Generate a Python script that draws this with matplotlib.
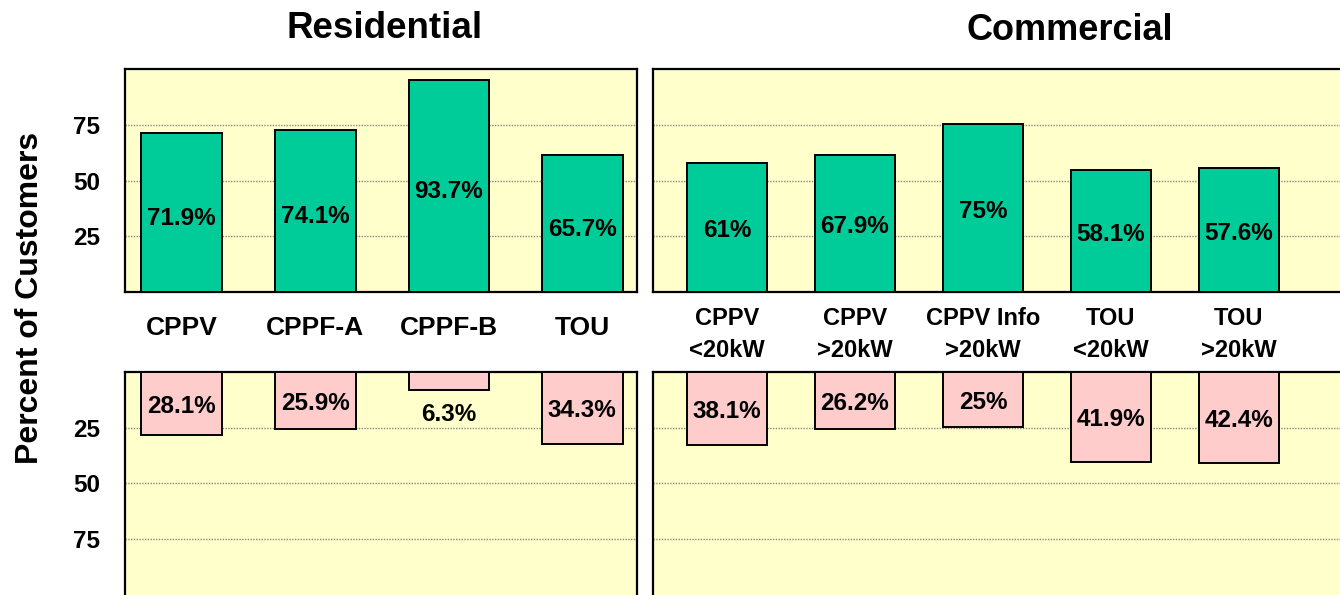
import matplotlib
matplotlib.use('Agg')
import matplotlib.pyplot as plt

plt.rcParams['font.family'] = ['Liberation Sans', 'DejaVu Sans']
plt.rcParams['font.weight'] = 'bold'

# ---- data ----
res_categories = ['CPPV', 'CPPF-A', 'CPPF-B', 'TOU']
res_yes = [71.2, 72.8, 95.0, 61.4]
res_no = [28.3, 25.5, 7.9, 32.4]
res_yes_labels = ['71.9%', '74.1%', '93.7%', '65.7%']
res_no_labels = ['28.1%', '25.9%', '6.3%', '34.3%']

com_categories = ['CPPV\n<20kW', 'CPPV\n>20kW', 'CPPV Info\n>20kW', 'TOU\n<20kW', 'TOU\n>20kW']
com_yes = [57.8, 61.4, 75.3, 54.9, 55.6]
com_no = [32.7, 25.8, 24.9, 40.6, 40.8]
com_yes_labels = ['61%', '67.9%', '75%', '58.1%', '57.6%']
com_no_labels = ['38.1%', '26.2%', '25%', '41.9%', '42.4%']

yticks = [25, 50, 75]

# ---- style ----
GREEN = '#00CC99'
PINK = '#FFCCCC'
BG = '#FFFFCC'
W, H = 1340, 595

fig = plt.figure(figsize=(W / 100, H / 100), dpi=100)


def ax_px(x0, y0, x1, y1):
    return fig.add_axes([x0 / W, 1 - y1 / H, (x1 - x0) / W, (y1 - y0) / H])


res_top = ax_px(125, 69, 637, 292)
com_top = ax_px(653, 69, 1348, 292)
res_bot = ax_px(125, 372, 637, 599)
com_bot = ax_px(653, 372, 1348, 599)


def style(ax, show_ticks):
    ax.set_facecolor(BG)
    for s in ax.spines.values():
        s.set_linewidth(1.6)
        s.set_color('black')
    ax.set_axisbelow(True)
    ax.yaxis.grid(True, linestyle=(0, (1, 1)), color='#8a8a7a', linewidth=1.0)
    ax.set_yticks(yticks)
    ax.tick_params(axis='y', length=0, pad=18, labelsize=17.5)
    if not show_ticks:
        ax.tick_params(axis='y', labelleft=False)


def draw(ax_t, ax_b, cats, yes, no, ylab, nlab, xlim, width, show_ticks,
         lab_pad, lab_size, lab_spacing, yes_off, no_off):
    x = list(range(len(cats)))
    ax_t.bar(x, yes, width=width, color=GREEN, edgecolor='black', linewidth=1.4, zorder=3)
    ax_b.bar(x, no, width=width, color=PINK, edgecolor='black', linewidth=1.4, zorder=3)
    for ax in (ax_t, ax_b):
        style(ax, show_ticks)
        ax.set_xlim(*xlim)
    ax_t.set_ylim(0, 100)
    ax_b.set_ylim(102, 0)
    ax_t.set_xticks(x, cats)
    ax_t.tick_params(axis='x', length=0, pad=lab_pad, labelsize=lab_size)
    for lbl in ax_t.get_xticklabels():
        lbl.set_linespacing(lab_spacing)
    ax_b.set_xticks([])
    for xi, h, t in zip(x, yes, ylab):
        ax_t.text(xi, h / 2 - yes_off, t, ha='center', va='center', fontsize=17.5, fontweight='bold', zorder=4)
    for xi, h, t in zip(x, no, nlab):
        yy = h + 11 if h < 15 else h / 2 + no_off
        ax_b.text(xi, yy, t, ha='center', va='center', fontsize=17.5, fontweight='bold', zorder=4)


draw(res_top, res_bot, res_categories, res_yes, res_no, res_yes_labels, res_no_labels,
     (-0.425, 3.41), 0.603, True, 17, 19, 1.2, 2.5, 1.2)
draw(com_top, com_bot, com_categories, com_yes, com_no, com_yes_labels, com_no_labels,
     (-0.578, 4.853), 0.629, False, 11, 17, 1.5, 1.5, 1.2)

fig.text(385 / W, 1 - 28 / H, 'Residential', ha='center', va='center', fontsize=26.5, fontweight='bold')
fig.text(1070 / W, 1 - 31 / H, 'Commercial', ha='center', va='center', fontsize=26, fontweight='bold')
fig.text(30 / W, 1 - 298 / H, 'Percent of Customers', ha='center', va='center', rotation=90,
         fontsize=23, fontweight='bold')

fig.savefig('out.png', dpi=100)
